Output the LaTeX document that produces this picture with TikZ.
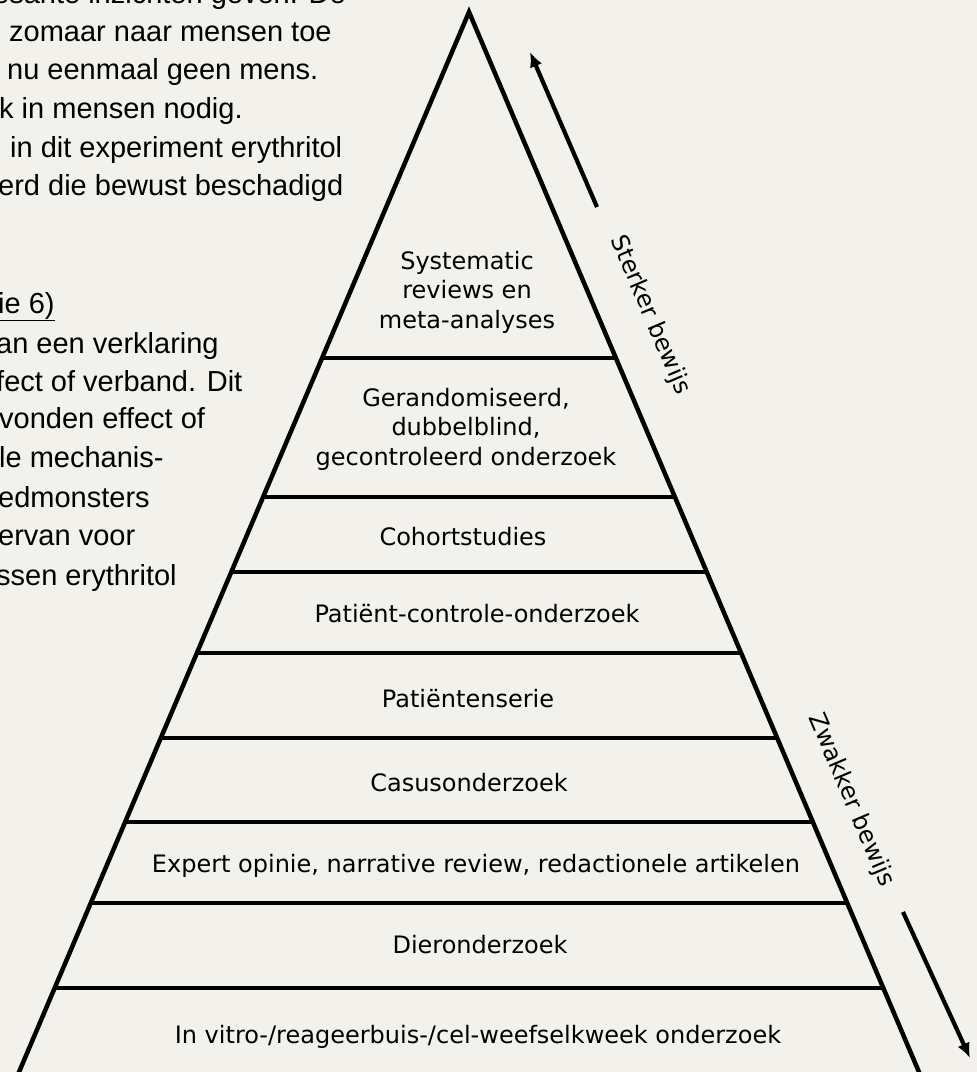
\documentclass[tikz,border=0pt]{standalone}
\usepackage{fontspec}
\setmainfont{DejaVu Sans}
\newfontfamily\bodyfont{Liberation Sans}
\usetikzlibrary{arrows.meta,calc}
\definecolor{paper}{RGB}{243,241,236}
\tikzset{
     tier/.style={font=\fontsize{24}{29.5}\selectfont, align=center, anchor=base, inner sep=0pt},
     sidetext/.style={font=\fontsize{24}{29}\selectfont, rotate=-67, inner sep=0pt},
     bodytext/.style={font=\bodyfont\fontsize{29}{38.7}\selectfont, anchor=base west, inner sep=0pt},
     layer/.style={line width=4pt},
     flank/.style={line width=4.5pt, line join=miter},
     evidence/.style={line width=4.2pt, -{Latex[length=15pt,width=13pt]}},
    }

\begin{document}
\begin{tikzpicture}[x=1pt,y=-1pt]
        \useasboundingbox (0,0) rectangle (977,1072);
        \clip (0,0) rectangle (977,1072);
        \fill[paper] (0,0) rectangle (977,1072);
        % cropped text column on the left
        \node[bodytext] (a1) at (-7,3)    {esante inzichten geven. De};
        \node[bodytext] (a2) at (9,41)    {zomaar naar mensen toe};
        \node[bodytext] (a3) at (7,79.5)  {nu eenmaal geen mens.};
        \node[bodytext] (a4) at (-1,118)  {k in mensen nodig.};
        \node[bodytext] (a5) at (10,157)  {in dit experiment erythritol};
        \node[bodytext] (a6) at (-2,195)  {erd die bewust beschadigd};
        \node[bodytext] (b1) at (-2,313)  {\underline{ie 6)}};
        \node[bodytext] (b2) at (-4,353)  {an een verklaring};
        \node[bodytext] (b3) at (-4,391)  {fect of verband. Dit};
        \node[bodytext] (b4) at (-1,428)  {vonden effect of};
        \node[bodytext] (b5) at (-1,467)  {le mechanis-};
        \node[bodytext] (b6) at (-2,507)  {edmonsters};
        \node[bodytext] (b7) at (-2,545)  {ervan voor};
        \node[bodytext] (b8) at (-4,585)  {ssen erythritol};
        % pyramid
        \coordinate (top) at (469,12);
        \draw[flank] ($(top)+(-0.4245*1100,1100)$) -- (top) -- ($(top)+(0.4245*1100,1100)$);
        \foreach \y in {358,497,572,653,738,822,903,988}
            \draw[layer] ({469-0.4245*(\y-12)},\y) -- ({469+0.4245*(\y-12)},\y);
        \node[tier] (sys)    at (467,328)  {Systematic\\reviews en\\meta-analyses};
        \node[tier] (rct)    at (466,465)  {Gerandomiseerd,\\dubbelblind,\\gecontroleerd onderzoek};
        \node[tier] (cohort) at (463,545)  {Cohortstudies};
        \node[tier] (pc)     at (477,622)  {Patiënt-controle-onderzoek};
        \node[tier] (ps)     at (468,707)  {Patiëntenserie};
        \node[tier] (casus)  at (469,791)  {Casusonderzoek};
        \node[tier] (expert) at (476,872)  {Expert opinie, narrative review, redactionele artikelen};
        \node[tier] (dier)   at (480,953)  {Dieronderzoek};
        \node[tier] (vitro)  at (478,1043) {In vitro-/reageerbuis-/cel-weefselkweek onderzoek};
        % direction of evidence
        \node[sidetext] (strong) at (650,315) {Sterker bewijs};
        \node[sidetext] (weak)   at (851,800) {Zwakker bewijs};
        \coordinate (up start) at (597,207);
        \coordinate (up end) at (530,52);
        \coordinate (down start) at (903,912);
        \coordinate (down end) at (970,1058);
        \draw[evidence] (up start) -- (up end);
        \draw[evidence] (down start) -- (down end);
    \end{tikzpicture}
\end{document}
